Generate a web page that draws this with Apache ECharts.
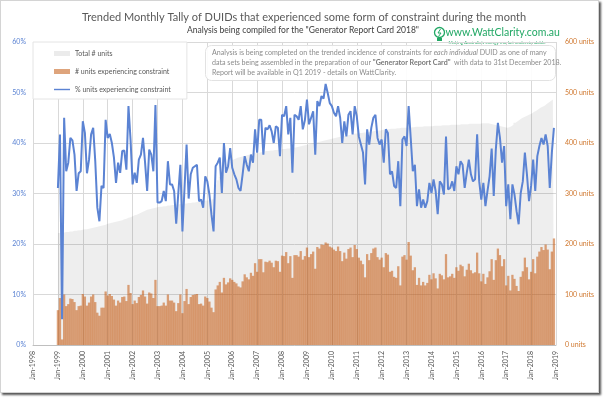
<!DOCTYPE html>
<html><head><meta charset="utf-8">
<script src="https://cdn.jsdelivr.net/npm/echarts@6/dist/echarts.min.js"></script>
<style>
html,body{margin:0;padding:0;background:#fff;}
#frame{position:absolute;left:0;top:0;width:597px;height:391px;border:1px solid #d4d4d4;box-shadow:2px 2px 2px #555;background:#fff;}
#chart{position:absolute;left:0;top:0;width:604px;height:399px;}
</style></head><body>
<div id="frame"></div>
<div id="chart"></div>
<script>
// Monthly data, Jan-1999 .. Dec-2018
const firstYear = 1999;
const totalUnits = [
222,222,223,223,224,224,225,225,226,226,227,227,
228,229,229,230,231,232,233,234,235,236,237,238,
240,241,242,243,244,245,246,247,249,250,252,253,
255,257,258,260,262,264,266,268,269,270,271,272,
273,274,274,275,275,276,276,277,277,278,278,279,
279,280,280,281,281,282,282,283,283,284,285,286,
286,287,288,289,318,326,333,340,346,352,358,363,
367,369,371,372,373,374,375,376,377,378,379,380,
380,381,382,383,384,384,385,385,386,386,387,387,
388,388,389,389,390,391,391,392,393,394,395,396,
397,398,399,400,401,402,403,404,405,406,407,408,
409,410,411,412,413,414,414,415,416,417,418,419,
419,420,420,421,421,422,422,423,424,424,425,425,
426,426,427,427,428,428,428,429,429,430,430,430,
430,431,431,431,432,432,432,432,433,433,433,433,
433,434,434,434,434,435,435,435,435,436,436,436,
436,436,437,437,437,437,438,438,438,438,438,438,
439,439,439,439,438,437,436,435,434,433,432,431,
430,431,433,436,440,443,446,449,451,453,455,457,
459,462,464,467,470,472,474,477,480,483,486,490
];
const constrainedUnits = [
69,93,11,100,77,81,92,91,85,69,77,78,
101,96,78,84,96,100,85,64,58,74,74,106,
98,101,97,90,78,88,84,95,96,87,119,103,
81,88,83,95,99,108,96,82,104,102,93,129,
77,77,78,84,78,100,88,88,84,67,83,100,
63,87,111,81,95,99,100,101,81,82,78,96,
93,86,74,65,110,118,125,104,133,120,124,132,
129,125,122,116,114,126,140,134,130,143,137,162,
145,170,170,144,165,164,167,163,154,167,166,145,
177,176,184,162,176,133,178,178,175,186,169,176,
193,174,180,185,151,194,191,199,198,203,201,195,
193,189,186,195,186,166,183,171,190,193,174,198,
190,173,167,160,134,180,168,182,191,193,174,169,
173,154,182,179,145,147,135,133,156,118,175,178,
169,204,177,148,154,119,133,118,125,118,123,139,
130,142,132,112,141,138,130,180,134,136,141,133,
154,147,159,156,136,149,161,148,142,144,183,142,
126,141,121,134,146,170,129,168,191,178,156,170,
118,137,108,139,131,117,107,135,146,173,154,130,
145,170,142,175,185,194,188,199,189,150,185,211
];
const pctConstrained = [
31.1,41.7,5.1,45,34.4,36.1,41,40.5,37.7,30.5,34,34.4,
44.3,42,34,36.7,41.7,43,36.4,27.2,24.5,31.5,31.1,44.6,
41,41.8,40,37.1,32.1,36.1,34.1,38.4,38.5,34.7,47.3,40.7,
31.8,34.1,32.1,36.7,37.7,41,36.1,30.5,38.7,37.7,34.4,47.5,
28.2,28.2,28.5,30.5,28.5,36.4,31.8,31.8,30.5,24,30,35.7,
22.5,31,39.7,29,33.8,35.1,35.4,35.7,28.5,28.8,27.2,33.4,
32.4,29.8,25.8,22.5,35.4,36.1,37.1,30.1,40,34.1,35.4,39,
35.1,33.8,32.8,31.1,30.5,33.8,37.4,35.7,34.4,37.7,36.1,42.7,
38.1,44.6,44.6,37.7,43,42.7,43.5,42.3,40,43.3,43,37.4,
45.6,45.3,47.3,41.7,45,34.1,45.6,45.3,44.6,47.3,42.7,44.5,
48.6,43.7,45,46.3,37.7,48.3,47.3,49.3,48.8,51.7,49.9,47.9,
47.3,46,45.3,47.3,45,40,44.3,41.3,45.6,46.3,41.7,47.3,
45.3,41.3,39.7,38.1,31.8,42.7,39.7,43,45,45.6,41,39.7,
40.7,36.1,42.7,42,33.8,34.4,31.5,31.1,36.4,27.5,40.7,41.3,
39.4,47.3,41,34.4,35.7,27.5,30.8,27.2,28.8,27.2,28.5,32.1,
30.1,32.8,30.5,25.9,32.4,31.8,29.8,41.3,30.8,31.1,32.4,30.5,
35.4,33.8,36.4,35.7,31.1,34.1,36.7,33.8,32.4,32.8,41.7,32.4,
28.8,32.1,27.5,30.5,33.4,38.9,29.5,38.7,44,41,36.1,39.4,
27.5,31.8,24.9,31.8,29.8,26.5,23.9,30.1,32.4,38.1,33.8,28.5,
31.5,36.7,30.5,37.4,39.4,41,39.7,41.7,39.4,31.1,38.1,43
];
const axisYears = {min: 1998, max: 2019};
const seriesNames = ['Total # units', '# units experiencing constraint', '% units experiencing constraint'];
const titleText = 'Trended Monthly Tally of DUIDs that experienced some form of constraint during the month';
const subtitleText = 'Analysis being compiled for the "Generator Report Card 2018"';

const monthX = i => firstYear + i / 12;
const totalData = totalUnits.map((v, i) => [monthX(i), v]);
const consData = constrainedUnits.map((v, i) => [monthX(i), v]);
const pctData = pctConstrained.map((v, i) => [monthX(i), v]);

const FONT = 'Lato, "Open Sans", sans-serif';
const chart = echarts.init(document.getElementById('chart'), null, {renderer: 'canvas'});
chart.setOption({
  backgroundColor: 'transparent',
  animation: false,
  textStyle: {fontFamily: FONT},
  title: [
    {text: titleText, left: 299, top: 7, textAlign: 'center',
     textStyle: {fontSize: 11, fontWeight: 'normal', color: '#595959', fontFamily: FONT}},
    {text: subtitleText, left: 298, top: 21, textAlign: 'center',
     textStyle: {fontSize: 8.5, fontWeight: 'normal', color: '#404040', fontFamily: FONT}}
  ],
  grid: {left: 33, right: 48, top: 42, bottom: 54, containLabel: false},
  legend: {
    orient: 'vertical', left: 33, top: 42,
    padding: [7, 16, 5, 21], itemGap: 9,
    itemWidth: 16, itemHeight: 5,
    backgroundColor: '#ffffff', borderColor: '#e4e4e4', borderWidth: 1,
    textStyle: {fontSize: 7, lineHeight: 9, color: '#595959', fontFamily: FONT},
    data: [
      {name: seriesNames[0], icon: 'rect', itemStyle: {color: '#ebebeb'}},
      {name: seriesNames[1], icon: 'rect', itemStyle: {color: '#dea47c'}},
      {name: seriesNames[2], icon: 'path://M0,0L18,0L18,1.6L0,1.6Z', symbolKeepAspect: true,
       itemStyle: {color: '#5b83d3'}}
    ]
  },
  xAxis: {
    type: 'value', min: axisYears.min, max: axisYears.max, interval: 1,
    axisLine: {show: true, lineStyle: {color: '#bfbfbf', width: 1}},
    axisTick: {show: false},
    splitLine: {show: true, lineStyle: {color: '#d9d9d9', width: 1}},
    axisLabel: {rotate: 90, margin: 6, fontSize: 7, color: '#595959',
      formatter: v => 'Jan-' + v}
  },
  yAxis: [
    {type: 'value', min: 0, max: 60, interval: 10, position: 'left',
     axisLine: {show: false}, axisTick: {show: false},
     splitLine: {show: true, lineStyle: {color: '#d9d9d9', width: 1}},
     axisLabel: {margin: 7, fontSize: 7, color: '#5b83d3', formatter: '{value}%'}},
    {type: 'value', min: 0, max: 600, interval: 100, position: 'right',
     axisLine: {show: false}, axisTick: {show: false}, splitLine: {show: false},
     axisLabel: {margin: 9, fontSize: 7, color: '#d0782f', formatter: '{value} units'}}
  ],
  series: [
    {name: seriesNames[0], type: 'line', yAxisIndex: 1, data: totalData,
     step: 'middle', symbol: 'none', lineStyle: {width: 0, color: '#ebebeb'},
     itemStyle: {color: '#ebebeb'},
     areaStyle: {color: 'rgba(0,0,0,0.065)', opacity: 1}, z: 1},
    {name: seriesNames[1], type: 'bar', yAxisIndex: 1, data: consData,
     barWidth: 2.3, itemStyle: {color: 'rgba(196,89,17,0.55)'}, z: 2},
    {name: seriesNames[2], type: 'line', yAxisIndex: 0, data: pctData,
     symbol: 'none', showSymbol: false, lineStyle: {width: 2, color: '#5b83d3'},
     itemStyle: {color: '#5b83d3'}, z: 3}
  ],
  graphic: [
    {type: 'rect', left: 205, top: 45, z: 10,
     shape: {width: 350, height: 35, r: 6},
     style: {fill: 'rgba(255,255,255,0.92)', stroke: '#e2e2e2', lineWidth: 1}},
    {type: 'text', left: 212, top: 48, z: 11,
     style: {
       text: 'Analysis is being completed on the trended incidence of constraints for {i|each individual} DUID as one of many\n' +
             'data sets being assembled in the preparation of our {b|"Generator Report Card"}  with data to 31st December 2018.\n' +
             'Report will be available in Q1 2019 - details on WattClarity.',
       fontSize: 7.1, lineHeight: 9.7, fill: '#8c8c8c', fontFamily: FONT,
       rich: {
         i: {fontStyle: 'italic', fontSize: 7.1, fill: '#8c8c8c', fontFamily: FONT},
         b: {fontWeight: 'bold', fontSize: 7.1, fill: '#7a7a7a', fontFamily: FONT}
       }
     }},
    {type: 'group', left: 432, top: 25, z: 11, children: [
      {type: 'circle', shape: {cx: 6, cy: 6, r: 5}, style: {fill: 'none', stroke: '#22a865', lineWidth: 1.3}},
      {type: 'rect', shape: {x: 3.5, y: 11.5, width: 5, height: 3}, style: {fill: '#22a865'}},
      {type: 'polyline', shape: {points: [[7,2.5],[4.5,6.5],[7.5,6.5],[5,10]]}, style: {stroke: '#22a865', lineWidth: 1, fill: 'none'}},
      {type: 'text', x: 12, y: 1, style: {text: 'www.WattClarity.com.au', fontSize: 10.5, fill: '#22a865', fontFamily: FONT}},
      {type: 'text', x: 15, y: 13.5, style: {text: "Making Australia's energy market understandable", fontSize: 4.5, fill: '#22a865', fontFamily: FONT}}
    ]}
  ]
});
</script>
</body></html>
